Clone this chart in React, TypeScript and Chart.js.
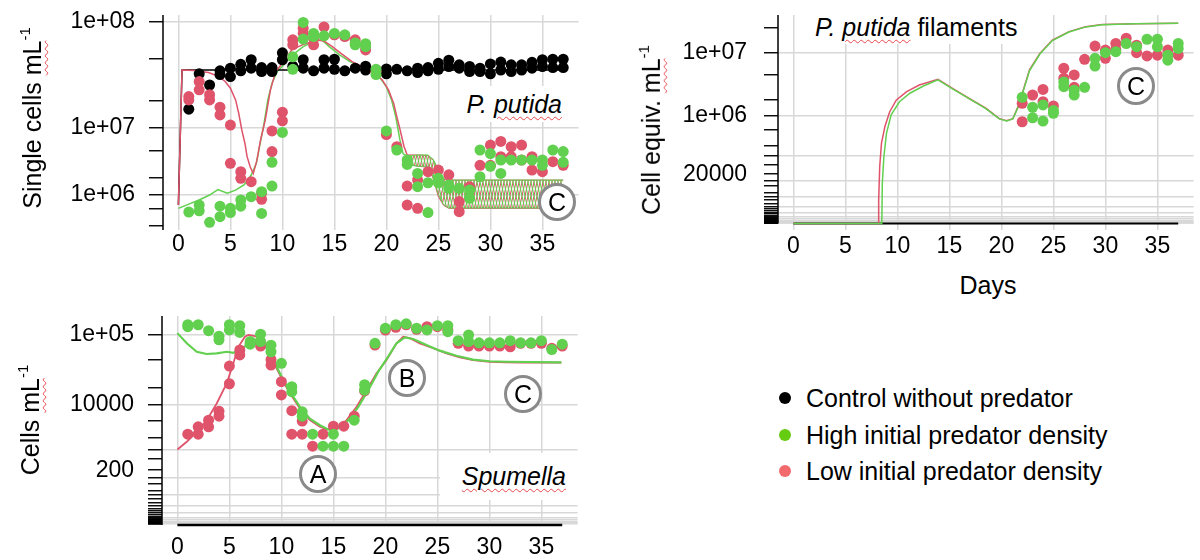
import React, { useEffect, useRef } from 'react';
import { Chart, registerables, LinearScale } from 'chart.js';

Chart.register(...registerables);

// ---------------- data ----------------
const DAYS = [1, 2, 3, 4, 5, 6, 7, 8, 9, 10, 11, 12, 13, 14, 15, 16, 17, 18, 19, 20, 21, 22, 23, 24, 25, 26, 27, 28, 29, 30, 31, 32, 33, 34, 35, 36, 37];
const X_TICKS = [0, 5, 10, 15, 20, 25, 30, 35];

// Top-left: P. putida single cells
const TL_BLACK_MODEL = [[0, 6.1e5], [0.35, 3.97e7], [5, 3.97e7], [10, 3.97e7], [20, 3.97e7], [30, 3.97e7], [37, 3.97e7]];
const TL_RED_MODEL = [[0, 6.1e5], [0.35, 3.97e7], [1.5, 3.92e7], [2.9, 3.76e7], [3.9, 3.45e7], [4.5, 3.1e7], [5.0, 2.67e7], [5.5, 2.03e7], [5.8, 1.46e7], [6.1, 9.3e6], [6.4, 6.3e6], [6.6, 4.2e6], [6.9, 2.95e6], [7.2, 2.3e6], [7.55, 3.7e6], [7.9, 7.0e6], [8.35, 1.22e7], [8.85, 2.57e7], [9.35, 3.84e7], [10.0, 4.56e7], [10.9, 5.95e7], [11.9, 6.55e7], [12.85, 6.97e7], [13.5, 7.19e7], [14.1, 6.97e7], [14.8, 6.34e7], [15.6, 5.58e7], [16.7, 4.72e7], [18.0, 4.12e7], [18.9, 3.71e7], [19.6, 3.21e7], [20.2, 2.57e7], [20.7, 1.87e7], [21.0, 1.34e7], [21.35, 9.0e6], [21.7, 5.7e6], [22.0, 4.4e6]];
const TL_GREEN_MODEL = [[0, 5.2e5], [1, 6.4e5], [2, 7.75e5], [3, 9.7e5], [3.8, 1.23e6], [4.7, 1.05e6], [5.5, 1.2e6], [6.3, 1.48e6], [7.0, 2.18e6], [7.5, 3.32e6], [7.8, 5.72e6], [8.2, 1.05e7], [8.6, 2.03e7], [9.0, 2.98e7], [9.5, 3.84e7], [10.0, 4.3e7], [11, 5.4e7], [12, 6.34e7], [13, 6.97e7], [13.8, 7.19e7], [14.5, 6.34e7], [15.5, 5.4e7], [16.5, 4.72e7], [17.5, 4.3e7], [18.5, 3.92e7], [19.3, 3.45e7], [20, 2.75e7], [20.5, 2.03e7], [20.9, 1.34e7], [21.3, 7.0e6], [21.6, 4.6e6], [22, 4.2e6]];
const TL_BAND_DAYS = [22, 23, 24, 24.5, 25, 25.5, 26, 30, 37];
const TL_RED_BAND_HI = [4.4e6, 4.4e6, 4.3e6, 3.7e6, 2.6e6, 1.85e6, 1.8e6, 1.8e6, 1.8e6];
const TL_RED_BAND_LO = [3.3e6, 3.0e6, 2.9e6, 1.9e6, 9.0e5, 6.0e5, 5.2e5, 5.2e5, 5.2e5];
const TL_GREEN_BAND_HI = [4.2e6, 4.4e6, 4.4e6, 3.8e6, 2.7e6, 1.9e6, 1.8e6, 1.8e6, 1.8e6];
const TL_GREEN_BAND_LO = [3.2e6, 3.0e6, 3.0e6, 2.0e6, 1.0e6, 6.2e5, 5.3e5, 5.3e5, 5.3e5];
const TL_BLACK_DOTS = [[1.62e7], [3.66e7], [2.87e7], [3.9e7, 3.6e7], [4.12e7, 3.45e7], [4.47e7, 3.9e7], [4.9e7, 4.12e7], [4.18e7, 3.84e7], [4.18e7, 3.84e7], [5.62e7, 4.9e7], [4.3e7], [4.9e7, 4.12e7], [3.9e7], [4.9e7, 4.12e7], [4.95e7, 4.03e7], [3.9e7], [4.12e7], [4.3e7, 3.97e7], [3.97e7], [4.06e7, 3.66e7], [4.03e7], [3.9e7], [4.12e7, 3.76e7], [4.18e7, 3.9e7], [4.56e7, 4.03e7], [4.85e7, 4.27e7], [4.42e7, 4.12e7], [4.27e7, 3.84e7], [4.12e7, 3.84e7], [4.5e7, 3.66e7], [4.68e7, 3.97e7], [4.42e7, 3.84e7], [4.42e7, 3.97e7], [4.65e7, 4.12e7], [4.9e7, 4.27e7], [4.95e7, 4.18e7], [4.95e7, 4.18e7]];
const TL_RED_DOTS = [[2.2e7, 2.03e7], [3.1e7, 2.57e7], [2.3e7, 2.03e7], [1.7e7, 1.4e7], [1.07e7, 3.32e6], [2.47e6, 1.93e6], [1.69e6], [1.045e6, 8.0e5], [9.1e6, 4.9e6], [1.5e7, 1.2e7], [7.2e7, 6.55e7], [8.9e7, 8.13e7], [7.4e7, 6.55e7], [9.1e7], [7.9e7], [7.65e7], [7.2e7], [6.55e7, 5.95e7], [3.84e7], [8.2e6], [5.7e6], [1.42e6, 6.1e5], [1.81e6, 5.2e5], [2.47e6], [2.62e6], [2.2e6], [7.2e5, 4.4e5], [1.38e6], [3.1e6], [6.0e6, 3.1e6], [6.7e6, 4.16e6], [5.7e6, 4.16e6], [6.0e6, 3.72e6], [4.16e6, 2.62e6], [2.47e6], [3.52e6], [3.1e6]];
const TL_GREEN_DOTS = [[4.3e5], [6.1e5, 4.6e5], [2.45e5], [5.8e5, 3.37e5], [5.2e5, 4.2e5], [7.75e5, 5.8e5], [9.0e5], [1.12e6, 4.0e5], [3.44e6, 1.42e6], [8.7e6], [5.2e7, 4.03e7], [9.85e7, 7.3e7], [8.1e7, 7.65e7], [7.75e7], [8.1e7], [7.9e7], [6.8e7, 6.55e7], [6.7e7, 6.34e7], [4.03e7, 3.6e7], [9.1e6], [5.15e6], [3.72e6, 3.2e6], [2.32e6, 1.38e6], [1.62e6, 4.2e5], [1.93e6, 1.62e6], [1.48e6, 1.29e6], [1.29e6], [1.2e6, 8.4e5], [5.15e6, 2.05e6], [4.6e6, 3.0e6], [3.72e6, 2.32e6], [3.72e6], [3.72e6], [3.72e6], [3.72e6, 3.1e6], [5.15e6], [4.9e6, 3.44e6]];
const TL_Y_TICKS = [2e5, 5e5, 1e6, 2e6, 5e6, 1e7, 2e7, 5e7, 1e8];
const TL_Y_LABEL_VALUES = [1e6, 1e7, 1e8];
const TL_Y_LABEL_TEXTS = ['1e+06', '1e+07', '1e+08'];
const TL_Y_GRID = [1e6, 1e7, 1e8];

// Top-right: P. putida filaments
const TR_BLACK_MODEL = [[0, 0], [37, 0]];
const TR_RED_MODEL = [[0, 0], [8.15, 0], [8.2, 500], [8.3, 4.1e4], [8.47, 2.3e5], [8.8, 5.9e5], [9.26, 1.2e6], [9.9, 1.98e6], [10.9, 2.74e6], [12.1, 3.5e6], [13.9, 4.3e6], [15.3, 3.1e6], [16.9, 2.1e6], [18.5, 1.4e6], [19.8, 8.7e5], [20.5, 7.9e5], [21.1, 8.7e5], [21.6, 1.5e6], [22.1, 2.9e6], [22.7, 5.9e6], [23.7, 9.8e6], [24.9, 1.43e7], [26.5, 1.79e7], [28.1, 2.03e7], [29.7, 2.14e7], [32.9, 2.19e7], [37, 2.21e7]];
const TR_GREEN_MODEL = [[0, 0], [8.5, 0], [8.55, 7e3], [8.7, 9.1e4], [8.95, 4.1e5], [9.4, 1.04e6], [10.2, 1.84e6], [11.2, 2.58e6], [12.5, 3.38e6], [13.9, 4.2e6], [15.3, 3.05e6], [16.9, 2.08e6], [18.5, 1.38e6], [19.8, 8.6e5], [20.5, 7.8e5], [21.1, 8.6e5], [21.6, 1.45e6], [22.1, 2.8e6], [22.7, 5.7e6], [23.7, 9.6e6], [24.9, 1.41e7], [26.5, 1.77e7], [28.1, 2.02e7], [29.7, 2.13e7], [32.9, 2.19e7], [37, 2.21e7]];
const TR_DOT_DAYS = [22, 23, 24, 25, 26, 27, 28, 29, 30, 31, 32, 33, 34, 35, 36, 37];
const TR_RED_DOTS = [[1.73e6, 7.5e5], [2.41e6], [2.98e6, 1.84e6], [1.54e6], [6.2e6, 4.45e6], [4.97e6, 3.22e6], [8.2e6], [1.21e7], [1.08e7, 8.45e6], [1.3e7, 1.1e7], [1.5e7], [1.24e7, 1.0e7], [9.1e6], [9.3e6], [1.08e7], [9.3e6]];
const TR_GREEN_DOTS = [[2.2e6], [1.46e6, 9.1e5], [1.61e6, 7.75e5], [1.27e6, 1.12e6], [3.9e6, 3.3e6], [2.9e6, 2.41e6], [3.22e6], [8.45e6, 6.66e6], [1.0e7], [1.03e7], [1.3e7], [1.19e7], [1.46e7], [1.46e7, 1.19e7], [9.3e6, 8.0e6], [1.3e7, 1.13e7]];
const TR_Y_TICKS = [1e-6, 2e-6, 5e-6, 1e-5, 2e-5, 5e-5, 1e-4, 2e-4, 5e-4, 1e-3, 2e-3, 5e-3, 0.01, 0.02, 0.05, 0.1, 0.2, 0.5, 1, 2, 5, 10, 20, 50, 100, 200, 500, 1e3, 2e3, 5e3, 1e4, 2e4, 5e4, 1e5, 2e5, 5e5, 1e6, 2e6, 5e6, 1e7, 2e7];
const TR_Y_LABEL_VALUES = [2e4, 1e6, 1e7];
const TR_Y_LABEL_TEXTS = ['20000', '1e+06', '1e+07'];
const TR_Y_GRID = [1e-6, 1e-5, 1e-4, 1e-3, 0.01, 0.1, 1, 10, 100, 1e3, 1e4, 1e5, 1e6, 1e7];

// Bottom-left: Spumella
const BL_BLACK_MODEL = [[0, 0], [37, 0]];
const BL_RED_MODEL = [[0, 990], [0.9, 1.61e3], [1.86, 2.83e3], [2.82, 5.12e3], [3.78, 1.07e4], [4.74, 2.3e4], [5.38, 4.46e4], [5.86, 7.26e4], [6.5, 9.56e4], [6.82, 1.0e5], [7.46, 9.7e4], [7.94, 9.18e4], [8.42, 7.62e4], [8.9, 6.0e4], [9.54, 3.8e4], [10.18, 2.44e4], [10.82, 1.6e4], [11.78, 8.72e3], [12.74, 5.12e3], [13.7, 3.69e3], [14.35, 3.22e3], [15.3, 3.38e3], [16.27, 5.12e3], [17.23, 9.31e3], [18.19, 1.8e4], [19.15, 3.24e4], [20.11, 4.93e4], [21.07, 7.99e4], [21.71, 9.56e4], [22.35, 9.18e4], [23.31, 7.99e4], [24.59, 6.96e4], [25.87, 6.0e4], [27.15, 5.35e4], [28.43, 4.93e4], [30.03, 4.68e4], [31.64, 4.6e4], [33.24, 4.55e4], [36.92, 4.55e4]];
const BL_GREEN_MODEL = [[0, 1.05e5], [0.9, 8.0e4], [1.86, 6.3e4], [2.82, 5.9e4], [3.78, 6.0e4], [4.74, 6.3e4], [5.38, 6.1e4], [6.02, 6.63e4], [6.66, 7.62e4], [7.3, 8.77e4], [7.78, 9.0e4], [8.26, 8.0e4], [8.9, 6.0e4], [9.54, 4.0e4], [10.18, 2.6e4], [10.82, 1.7e4], [11.78, 9.3e3], [12.74, 5.5e3], [13.7, 4.0e3], [14.5, 3.2e3], [15.47, 3.38e3], [16.43, 5.12e3], [17.39, 9.3e3], [18.35, 1.8e4], [19.31, 3.42e4], [20.27, 5.46e4], [21.07, 8.0e4], [21.87, 9.4e4], [22.67, 9.0e4], [23.95, 7.62e4], [25.23, 6.5e4], [26.83, 5.6e4], [28.43, 5.0e4], [30.03, 4.75e4], [31.64, 4.68e4], [36.92, 4.6e4]];
const BL_RED_DOTS = [[2.5e3], [3.69e3, 2.5e3], [5.12e3, 3.69e3], [7.7e3, 6.15e3], [4.1e4, 2.27e4], [6.63e4, 5.74e4], [8.0e4], [8.0e4, 7.4e4], [5.0e4, 4.23e4], [2.44e4, 1.5e4], [7.9e3, 2.5e3], [4.9e3, 2.5e3], [1.23e3], [2.5e3], [3.8e3], [3.8e3], [6.15e3], [1.76e4], [7.62e4], [1.137e5], [1.22e5], [1.3e5], [1.16e5], [1.24e5], [1.24e5], [1.14e5], [8.0e4], [7.4e4], [7.4e4], [7.4e4], [7.4e4], [7.26e4], [8.0e4], [8.0e4], [8.0e4], [6.96e4], [7.4e4]];
const BL_GREEN_DOTS = [[1.3e5, 1.24e5], [1.3e5], [1.12e5], [9.7e4, 8.8e4], [1.3e5, 1.14e5], [1.27e5, 1.07e5], [8.4e4, 7.8e4], [1.02e5, 8.4e4], [7.6e4, 6.3e4], [4.46e4], [2.04e4, 1.7e4], [7.5e3, 6.15e3], [2.5e3], [1.23e3], [2.5e3, 1.23e3], [1.23e3], [5.12e3], [2.2e4, 1.8e4], [8.0e4], [1.19e5], [1.3e5], [1.33e5], [1.19e5], [1.14e5], [1.27e5], [1.27e5, 1.09e5], [8.6e4], [1.0e5, 8.4e4], [8.1e4], [8.1e4], [8.1e4], [8.6e4], [8.1e4], [8.1e4], [8.6e4], [6.7e4], [7.8e4]];
const BL_Y_TICKS = [1e-6, 2e-6, 5e-6, 1e-5, 2e-5, 5e-5, 1e-4, 2e-4, 5e-4, 1e-3, 2e-3, 5e-3, 0.01, 0.02, 0.05, 0.1, 0.2, 0.5, 1, 2, 5, 10, 20, 50, 100, 200, 500, 1e3, 2e3, 5e3, 1e4, 2e4, 5e4, 1e5];
const BL_Y_LABEL_VALUES = [200, 1e4, 1e5];
const BL_Y_LABEL_TEXTS = ['200', '10000', '1e+05'];
const BL_Y_GRID = [1e-6, 1e-5, 1e-4, 1e-3, 0.01, 0.1, 1, 10, 100, 1e3, 1e4, 1e5];

const LEGEND_LABELS = ['Control without predator', 'High initial predator density', 'Low initial predator density'];

// ---------------- styles ----------------
const FONT = '"Liberation Sans", Arial, Helvetica, sans-serif';
const TICK_SIZE = 23;
const TEXT_SIZE = 25;
const GRID_COLOR = '#d8d8d8';
const RED = '#DF536B';
const GREEN = '#61D04F';
const BLACK = '#000000';
const LEGEND_COLORS = ['#000000', '#66CC11', '#F26A6E'];
const X_MIN = -1.48;
const X_MAX = 38.48;

// ---------------- power (x^0.2) scale ----------------
const EXP = 0.2;
const spow = (v: number) => Math.sign(v) * Math.pow(Math.abs(v), EXP);
const sinv = (u: number) => Math.sign(u) * Math.pow(Math.abs(u), 1 / EXP);

class PowScale extends LinearScale {
  static id = 'pow';
  static defaults = {};
  getPixelForValue(value: number) {
    const a = spow(this.min);
    const b = spow(this.max);
    return this.getPixelForDecimal((spow(value) - a) / (b - a));
  }
  getValueForPixel(pixel: number) {
    const a = spow(this.min);
    const b = spow(this.max);
    return sinv(a + this.getDecimalForPixel(pixel) * (b - a));
  }
}
Chart.register(PowScale as any);

const axisLinePlugin = {
  id: 'axisLine',
  afterDatasetsDraw(chart: any, _args: any, opts: any) {
    const { ctx, chartArea } = chart;
    const bottom = opts && typeof opts.to === 'number' ? chart.scales.y.getPixelForValue(opts.to) : chartArea.bottom;
    ctx.save();
    ctx.strokeStyle = '#000';
    ctx.lineWidth = 1.5;
    ctx.beginPath();
    ctx.moveTo(chartArea.left, chartArea.top);
    ctx.lineTo(chartArea.left, bottom);
    ctx.stroke();
    ctx.restore();
  },
};

// ---------------- helpers ----------------
const pts = (arr: number[][]) => arr.map(([x, y]) => ({ x, y }));
const zipPts = (xs: number[], ys: number[]) => xs.map((x, i) => ({ x, y: ys[i] }));
const dotPts = (days: number[], vals: number[][]) => days.flatMap((d, i) => vals[i].map((v) => ({ x: d, y: v })));

const lineDs = (data: any[], color: string, width: number, order: number, extra: any = {}) => ({
  data, showLine: true, borderColor: color, borderWidth: width, pointRadius: 0, pointHoverRadius: 0,
  fill: false, order, clip: false, tension: 0, ...extra,
});
const dotDs = (data: any[], color: string, order: number) => ({
  data, showLine: false, pointRadius: 5.5, pointHoverRadius: 5.5, pointBackgroundColor: color,
  pointBorderColor: color, pointBorderWidth: 0, backgroundColor: color, order,
});

function hatch(color: string, dir: number) {
  const w = 3, h = 14;
  const c = document.createElement('canvas');
  c.width = w; c.height = h;
  const g = c.getContext('2d')!;
  g.strokeStyle = color;
  g.lineWidth = 1.1;
  g.beginPath();
  for (const dx of [-w, 0, w]) {
    if (dir > 0) { g.moveTo(dx, h); g.lineTo(dx + w, 0); }
    else { g.moveTo(dx, 0); g.lineTo(dx + w, h); }
  }
  g.stroke();
  return g.createPattern(c, 'repeat');
}

function makeConfig(o: any) {
  return {
    type: 'scatter',
    data: { datasets: o.datasets },
    options: {
      responsive: false,
      animation: false,
      devicePixelRatio: 1,
      events: [],
      layout: { padding: { left: 0, top: o.padTop, right: o.padRight, bottom: 0 } },
      plugins: { legend: { display: false }, tooltip: { enabled: false }, axisLine: { to: o.axisTo } },
      scales: {
        x: {
          type: 'linear', min: X_MIN, max: X_MAX, bounds: 'data',
          afterBuildTicks: (s: any) => { s.ticks = X_TICKS.map((v) => ({ value: v })); },
          afterFit: (s: any) => { s.height = o.xHeight; s.paddingLeft = 0; s.paddingRight = 0; },
          border: { display: false },
          grid: { color: GRID_COLOR, lineWidth: 1.5, drawTicks: false },
          ticks: {
            autoSkip: false, maxRotation: 0, padding: o.xPad, color: '#000',
            font: { family: FONT, size: TICK_SIZE, lineHeight: 1.2 },
            callback: (v: number) => String(v),
          },
        },
        y: {
          type: 'pow', min: o.yMin, max: o.yMax, bounds: 'data',
          afterBuildTicks: (s: any) => { s.ticks = o.yTicks.map((v: number) => ({ value: v })); },
          afterFit: (s: any) => { s.width = o.yWidth; s.paddingTop = 0; s.paddingBottom = 0; },
          border: { display: false },
          grid: {
            color: (c: any) => (c.tick && o.yGrid.includes(c.tick.value) ? GRID_COLOR : 'rgba(0,0,0,0)'),
            lineWidth: 1.5, drawTicks: true, tickLength: 14, tickColor: '#000', tickWidth: 1.4,
          },
          ticks: {
            autoSkip: false, padding: o.yPad, color: '#000',
            font: { family: FONT, size: TICK_SIZE, lineHeight: 1.2 },
            callback: (v: number) => {
              const i = o.labelValues.indexOf(v);
              return i >= 0 ? o.labelTexts[i] : '';
            },
          },
        },
      },
    },
    plugins: [axisLinePlugin],
  } as any;
}

const wavy: React.CSSProperties = {
  textDecorationLine: 'underline', textDecorationStyle: 'wavy', textDecorationColor: '#e8474c',
  textDecorationThickness: '1px', textUnderlineOffset: '3px',
};

function YTitle({ cx, cy, main }: { cx: number; cy: number; main: string }) {
  return (
    <div style={{ position: 'absolute', left: cx, top: cy, transform: 'translate(-50%, -50%) rotate(-90deg)', whiteSpace: 'nowrap', fontSize: TEXT_SIZE, lineHeight: 1 }}>
      {main}<span style={wavy}>mL</span><sup style={{ fontSize: '0.6em', verticalAlign: '0.75em' }}>-1</sup>
    </div>
  );
}

function Circled({ cx, cy, letter }: { cx: number; cy: number; letter: string }) {
  const d = 38;
  return (
    <div style={{ position: 'absolute', left: cx - d / 2, top: cy - d / 2, width: d, height: d, boxSizing: 'border-box', borderRadius: '50%', border: '3.5px solid #8a8a8a', background: '#fff', display: 'flex', alignItems: 'center', justifyContent: 'center', fontSize: TEXT_SIZE, lineHeight: 1 }}>
      {letter}
    </div>
  );
}

export default function App() {
  const tlRef = useRef<HTMLCanvasElement>(null);
  const trRef = useRef<HTMLCanvasElement>(null);
  const blRef = useRef<HTMLCanvasElement>(null);

  useEffect(() => {
    Chart.defaults.font.family = FONT;
    const redHatch = hatch(RED, 1);
    const greenHatch = hatch(GREEN, -1);

    const tl = new Chart(tlRef.current!, makeConfig({
      padTop: 15, padRight: 21.4, yWidth: 163, xHeight: 40, xPad: 1, yPad: 14,
      yMin: 1.54e5, yMax: 1.12e8, yTicks: TL_Y_TICKS, yGrid: TL_Y_GRID,
      labelValues: TL_Y_LABEL_VALUES, labelTexts: TL_Y_LABEL_TEXTS, axisTo: null,
      datasets: [
        lineDs(pts(TL_BLACK_MODEL), BLACK, 1.5, 5),
        lineDs(pts(TL_RED_MODEL), RED, 1.5, 4),
        lineDs(pts(TL_GREEN_MODEL), GREEN, 1.5, 6),
        lineDs(zipPts(TL_BAND_DAYS, TL_RED_BAND_HI), RED, 1, 8),
        lineDs(zipPts(TL_BAND_DAYS, TL_RED_BAND_LO), RED, 1, 8, { fill: '-1', backgroundColor: redHatch }),
        lineDs(zipPts(TL_BAND_DAYS, TL_GREEN_BAND_HI), GREEN, 1, 7),
        lineDs(zipPts(TL_BAND_DAYS, TL_GREEN_BAND_LO), GREEN, 1, 7, { fill: '-1', backgroundColor: greenHatch }),
        dotDs(dotPts(DAYS, TL_BLACK_DOTS), BLACK, 3),
        dotDs(dotPts(DAYS, TL_RED_DOTS), RED, 2),
        dotDs(dotPts(DAYS, TL_GREEN_DOTS), GREEN, 1),
      ],
    }));

    const tr = new Chart(trRef.current!, makeConfig({
      padTop: 15, padRight: 6.4, yWidth: 178, xHeight: 40, xPad: 3, yPad: 17,
      yMin: -0.8, yMax: 2.71e7, yTicks: TR_Y_TICKS, yGrid: TR_Y_GRID,
      labelValues: TR_Y_LABEL_VALUES, labelTexts: TR_Y_LABEL_TEXTS, axisTo: 0,
      datasets: [
        lineDs(pts(TR_BLACK_MODEL), BLACK, 2, 7),
        lineDs(pts(TR_RED_MODEL), RED, 1.5, 6),
        lineDs(pts(TR_GREEN_MODEL), GREEN, 1.5, 5),
        dotDs(dotPts(TR_DOT_DAYS, TR_RED_DOTS), RED, 2),
        dotDs(dotPts(TR_DOT_DAYS, TR_GREEN_DOTS), GREEN, 1),
      ],
    }));

    const bl = new Chart(blRef.current!, makeConfig({
      padTop: 26, padRight: 22.4, yWidth: 162, xHeight: 35, xPad: 9, yPad: 14,
      yMin: 0, yMax: 1.61e5, yTicks: BL_Y_TICKS, yGrid: BL_Y_GRID,
      labelValues: BL_Y_LABEL_VALUES, labelTexts: BL_Y_LABEL_TEXTS, axisTo: 0,
      datasets: [
        lineDs(pts(BL_BLACK_MODEL), BLACK, 2.5, 7),
        lineDs(pts(BL_RED_MODEL), RED, 1.8, 6),
        lineDs(pts(BL_GREEN_MODEL), GREEN, 2.2, 5),
        dotDs(dotPts(DAYS, BL_RED_DOTS), RED, 2),
        dotDs(dotPts(DAYS, BL_GREEN_DOTS), GREEN, 1),
      ],
    }));

    return () => { tl.destroy(); tr.destroy(); bl.destroy(); };
  }, []);

  const legendRows = [398, 435, 471];

  return (
    <div style={{ position: 'fixed', left: 0, top: 0, width: 1200, height: 560, background: '#fff', fontFamily: FONT, color: '#000', overflow: 'hidden' }}>
      <canvas ref={tlRef} width={600} height={270} style={{ position: 'absolute', left: 0, top: 0, width: 600, height: 270 }} />
      <canvas ref={trRef} width={600} height={270} style={{ position: 'absolute', left: 600, top: 0, width: 600, height: 270 }} />
      <canvas ref={blRef} width={600} height={270} style={{ position: 'absolute', left: 0, top: 290, width: 600, height: 270 }} />

      <YTitle cx={31} cy={118} main="Single cells " />
      <YTitle cx={650} cy={130} main="Cell equiv. " />
      <YTitle cx={29} cy={420} main="Cells " />

      <div style={{ position: 'absolute', left: 988, top: 285, transform: 'translate(-50%, -50%)', fontSize: TEXT_SIZE, whiteSpace: 'nowrap' }}>Days</div>

      <div style={{ position: 'absolute', left: 452, top: 86, width: 110, height: 36, paddingRight: 10, background: '#fff', textAlign: 'right', fontSize: TEXT_SIZE, lineHeight: '36px', fontStyle: 'italic', whiteSpace: 'nowrap' }}>
        P. <span style={wavy}>putida</span>
      </div>
      <div style={{ position: 'absolute', left: 805, top: 10, height: 34, paddingLeft: 10, paddingRight: 8, background: '#fff', fontSize: TEXT_SIZE, lineHeight: '34px', whiteSpace: 'nowrap' }}>
        <i>P. <span style={wavy}>putida</span></i> filaments
      </div>
      <div style={{ position: 'absolute', left: 440, top: 453, width: 126, height: 47, paddingRight: 16, background: '#fff', textAlign: 'right', fontSize: TEXT_SIZE, lineHeight: '47px', fontStyle: 'italic', whiteSpace: 'nowrap' }}>
        <span style={wavy}>Spumella</span>
      </div>

      <Circled cx={557} cy={202} letter="C" />
      <Circled cx={1136} cy={86} letter="C" />
      <Circled cx={318} cy={474} letter="A" />
      <Circled cx={407} cy={378} letter="B" />
      <Circled cx={523} cy={394} letter="C" />

      {LEGEND_LABELS.map((t, i) => (
        <div key={t} style={{ position: 'absolute', left: 779, top: legendRows[i] - 16, height: 32, display: 'flex', alignItems: 'center', whiteSpace: 'nowrap' }}>
          <span style={{ display: 'inline-block', width: 12, height: 12, borderRadius: '50%', background: LEGEND_COLORS[i], marginRight: 15 }} />
          <span style={{ fontSize: TEXT_SIZE }}>{t}</span>
        </div>
      ))}
    </div>
  );
}
